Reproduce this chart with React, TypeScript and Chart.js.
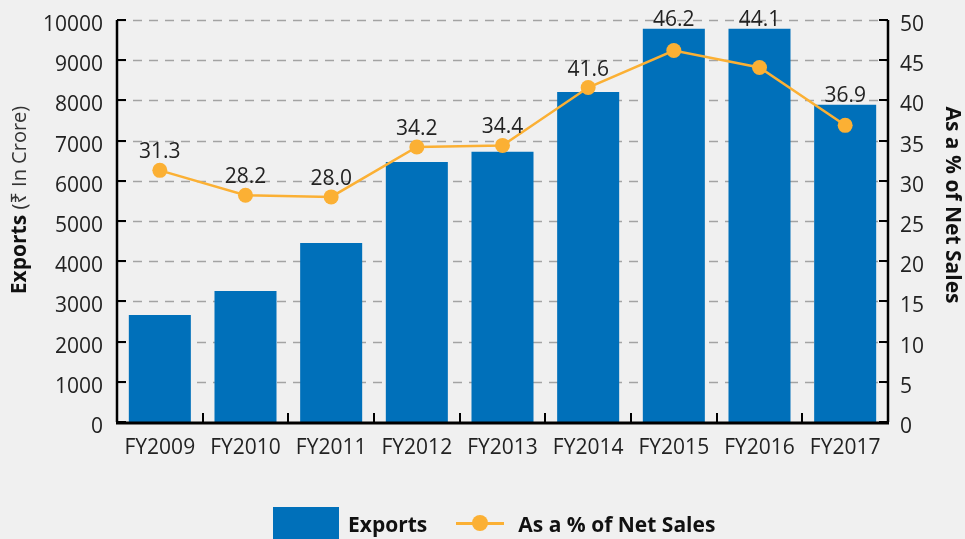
import React, { useEffect, useRef } from "react";
import { Chart, registerables } from "chart.js";

Chart.register(...registerables);

const categories = ["FY2009", "FY2010", "FY2011", "FY2012", "FY2013", "FY2014", "FY2015", "FY2016", "FY2017"];
const exportsValues = [2660, 3260, 4450, 6470, 6720, 8210, 9780, 9780, 7890];
const pctValues = [31.3, 28.2, 28.0, 34.2, 34.4, 41.6, 46.2, 44.1, 36.9];
const leftTicks = [0, 1000, 2000, 3000, 4000, 5000, 6000, 7000, 8000, 9000, 10000];
const rightTicks = [0, 5, 10, 15, 20, 25, 30, 35, 40, 45, 50];

const BLUE = "#0070BA";
const ORANGE = "#FBB034";
const FONT = "'Open Sans', 'Noto Sans', sans-serif";

const gridPlugin = {
  id: "dashgrid",
  beforeDatasetsDraw(chart: any) {
    const ctx = chart.ctx;
    const ca = chart.chartArea;
    const y = chart.scales.y;
    ctx.save();
    ctx.strokeStyle = "#a3a3a3";
    ctx.lineWidth = 1.5;
    ctx.setLineDash([9, 7]);
    leftTicks.forEach((v) => {
      if (v === 0) return;
      const py = Math.round(y.getPixelForValue(v)) + 0.5;
      ctx.beginPath();
      ctx.moveTo(ca.left, py);
      ctx.lineTo(ca.right, py);
      ctx.stroke();
    });
    ctx.restore();
  },
};

const overlayPlugin = {
  id: "overlay",
  afterDraw(chart: any) {
    const ctx = chart.ctx;
    const ca = chart.chartArea;
    const y = chart.scales.y;
    const y1 = chart.scales.y1;
    ctx.save();
    ctx.strokeStyle = "#000";
    ctx.lineWidth = 2;
    leftTicks.forEach((v) => {
      const py = Math.round(y.getPixelForValue(v));
      ctx.beginPath();
      ctx.moveTo(ca.left, py);
      ctx.lineTo(ca.left + 9, py);
      ctx.stroke();
    });
    rightTicks.forEach((v) => {
      const py = Math.round(y1.getPixelForValue(v));
      ctx.beginPath();
      ctx.moveTo(ca.right, py);
      ctx.lineTo(ca.right - 9, py);
      ctx.stroke();
    });
    const n = categories.length;
    const cw = (ca.right - ca.left) / n;
    for (let i = 1; i < n; i++) {
      const px = Math.round(ca.left + cw * i);
      ctx.beginPath();
      ctx.moveTo(px, ca.bottom);
      ctx.lineTo(px, ca.bottom - 9);
      ctx.stroke();
    }
    ctx.lineWidth = 3;
    ctx.beginPath();
    ctx.moveTo(ca.left - 1, ca.bottom + 1);
    ctx.lineTo(ca.right + 1, ca.bottom + 1);
    ctx.stroke();
    ctx.lineWidth = 2.5;
    ctx.beginPath();
    ctx.moveTo(ca.left, ca.top);
    ctx.lineTo(ca.left, ca.bottom);
    ctx.stroke();
    ctx.beginPath();
    ctx.moveTo(ca.right, ca.top);
    ctx.lineTo(ca.right, ca.bottom);
    ctx.stroke();

    // data labels
    const lineMeta = chart.getDatasetMeta(1);
    const barMeta = chart.getDatasetMeta(0);
    ctx.fillStyle = "#222";
    ctx.font = `21px ${FONT}`;
    ctx.textAlign = "center";
    ctx.textBaseline = "alphabetic";
    lineMeta.data.forEach((pt: any, i: number) => {
      const barTop = barMeta.data[i].y;
      const base = Math.min(pt.y - 12, barTop - 3);
      ctx.fillText(pctValues[i].toFixed(1), pt.x, base);
    });

    // left axis title
    ctx.save();
    ctx.translate(20, 200);
    ctx.rotate(-Math.PI / 2);
    ctx.textBaseline = "middle";
    ctx.textAlign = "left";
    const boldPart = "Exports ";
    const normPart = "(₹ In Crore)";
    ctx.font = `bold 21px ${FONT}`;
    const w1 = ctx.measureText(boldPart).width;
    ctx.font = `20px ${FONT}`;
    const w2 = ctx.measureText(normPart).width;
    const start = -(w1 + w2) / 2;
    ctx.font = `bold 21px ${FONT}`;
    ctx.fillStyle = "#111";
    ctx.fillText(boldPart, start, 0);
    ctx.font = `20px ${FONT}`;
    ctx.fillStyle = "#333";
    ctx.fillText(normPart, start + w1, 0);
    ctx.restore();

    // right axis title
    ctx.save();
    ctx.translate(952, 205);
    ctx.rotate(Math.PI / 2);
    ctx.textBaseline = "middle";
    ctx.textAlign = "center";
    ctx.font = `bold 21px ${FONT}`;
    ctx.fillStyle = "#111";
    ctx.fillText("As a % of Net Sales", 0, 0);
    ctx.restore();

    ctx.restore();
  },
};

export default function App() {
  const canvasRef = useRef<HTMLCanvasElement | null>(null);

  useEffect(() => {
    document.body.style.margin = "0";
    const canvas = canvasRef.current;
    if (!canvas) return;
    const tickFont = { family: FONT, size: 21 };
    const chart = new Chart(canvas, {
      data: {
        labels: categories,
        datasets: [
          {
            type: "bar",
            label: "Exports",
            data: exportsValues,
            backgroundColor: BLUE,
            yAxisID: "y",
            barPercentage: 0.724,
            categoryPercentage: 1,
            order: 2,
          },
          {
            type: "line",
            label: "As a % of Net Sales",
            data: pctValues,
            borderColor: ORANGE,
            backgroundColor: ORANGE,
            borderWidth: 2.5,
            pointRadius: 7.5,
            pointHoverRadius: 7.5,
            pointBorderWidth: 0,
            yAxisID: "y1",
            order: 1,
          },
        ],
      } as any,
      options: {
        animation: false,
        responsive: false,
        maintainAspectRatio: false,
        layout: { padding: { top: 20, left: 0, right: 0, bottom: 0 } },
        plugins: {
          legend: { display: false },
          tooltip: { enabled: false },
        },
        scales: {
          x: {
            grid: { display: false, drawTicks: false },
            border: { display: false },
            ticks: { color: "#222", font: tickFont, padding: 13, maxRotation: 0 },
            afterFit: (s: any) => {
              s.height = 117;
              s.paddingLeft = 0;
              s.paddingRight = 0;
            },
          },
          y: {
            position: "left",
            min: 0,
            max: 10000,
            afterBuildTicks: (s: any) => { s.ticks = leftTicks.map((v) => ({ value: v })); },
            grid: { display: false, drawTicks: false },
            border: { display: false },
            ticks: { color: "#222", font: tickFont, padding: 14, labelOffset: 5, callback: (v: any) => String(v) },
            afterFit: (s: any) => {
              s.width = 117;
              s.paddingTop = 0;
              s.paddingBottom = 0;
            },
          },
          y1: {
            position: "right",
            min: 0,
            max: 50,
            afterBuildTicks: (s: any) => { s.ticks = rightTicks.map((v) => ({ value: v })); },
            grid: { display: false, drawTicks: false },
            border: { display: false },
            ticks: { color: "#222", font: tickFont, padding: 12, labelOffset: 5, callback: (v: any) => String(v) },
            afterFit: (s: any) => {
              s.width = 77;
              s.paddingTop = 0;
              s.paddingBottom = 0;
            },
          },
        },
      } as any,
      plugins: [gridPlugin, overlayPlugin],
    });
    return () => chart.destroy();
  }, []);

  return (
    <div style={{ position: "fixed", left: 0, top: 0, width: 965, height: 539, background: "#f0f0f0", overflow: "hidden" }}>
      <canvas ref={canvasRef} width={965} height={539} style={{ position: "absolute", left: 0, top: 0 }} />
      <div
        style={{
          position: "absolute",
          left: 273,
          top: 507,
          display: "flex",
          alignItems: "flex-start",
          fontFamily: FONT,
          fontWeight: 700,
          fontSize: 21,
          color: "#111",
        }}
      >
        <div style={{ width: 66, height: 34, background: BLUE }} />
        <span style={{ marginLeft: 9, lineHeight: "34px" }}>Exports</span>
        <div style={{ position: "relative", width: 48, height: 34, marginLeft: 29 }}>
          <div style={{ position: "absolute", left: 0, top: 15, width: 48, height: 2.5, background: ORANGE }} />
          <div style={{ position: "absolute", left: 16, top: 8, width: 16, height: 16, borderRadius: 8, background: ORANGE }} />
        </div>
        <span style={{ marginLeft: 14, lineHeight: "34px" }}>As a % of Net Sales</span>
      </div>
    </div>
  );
}
